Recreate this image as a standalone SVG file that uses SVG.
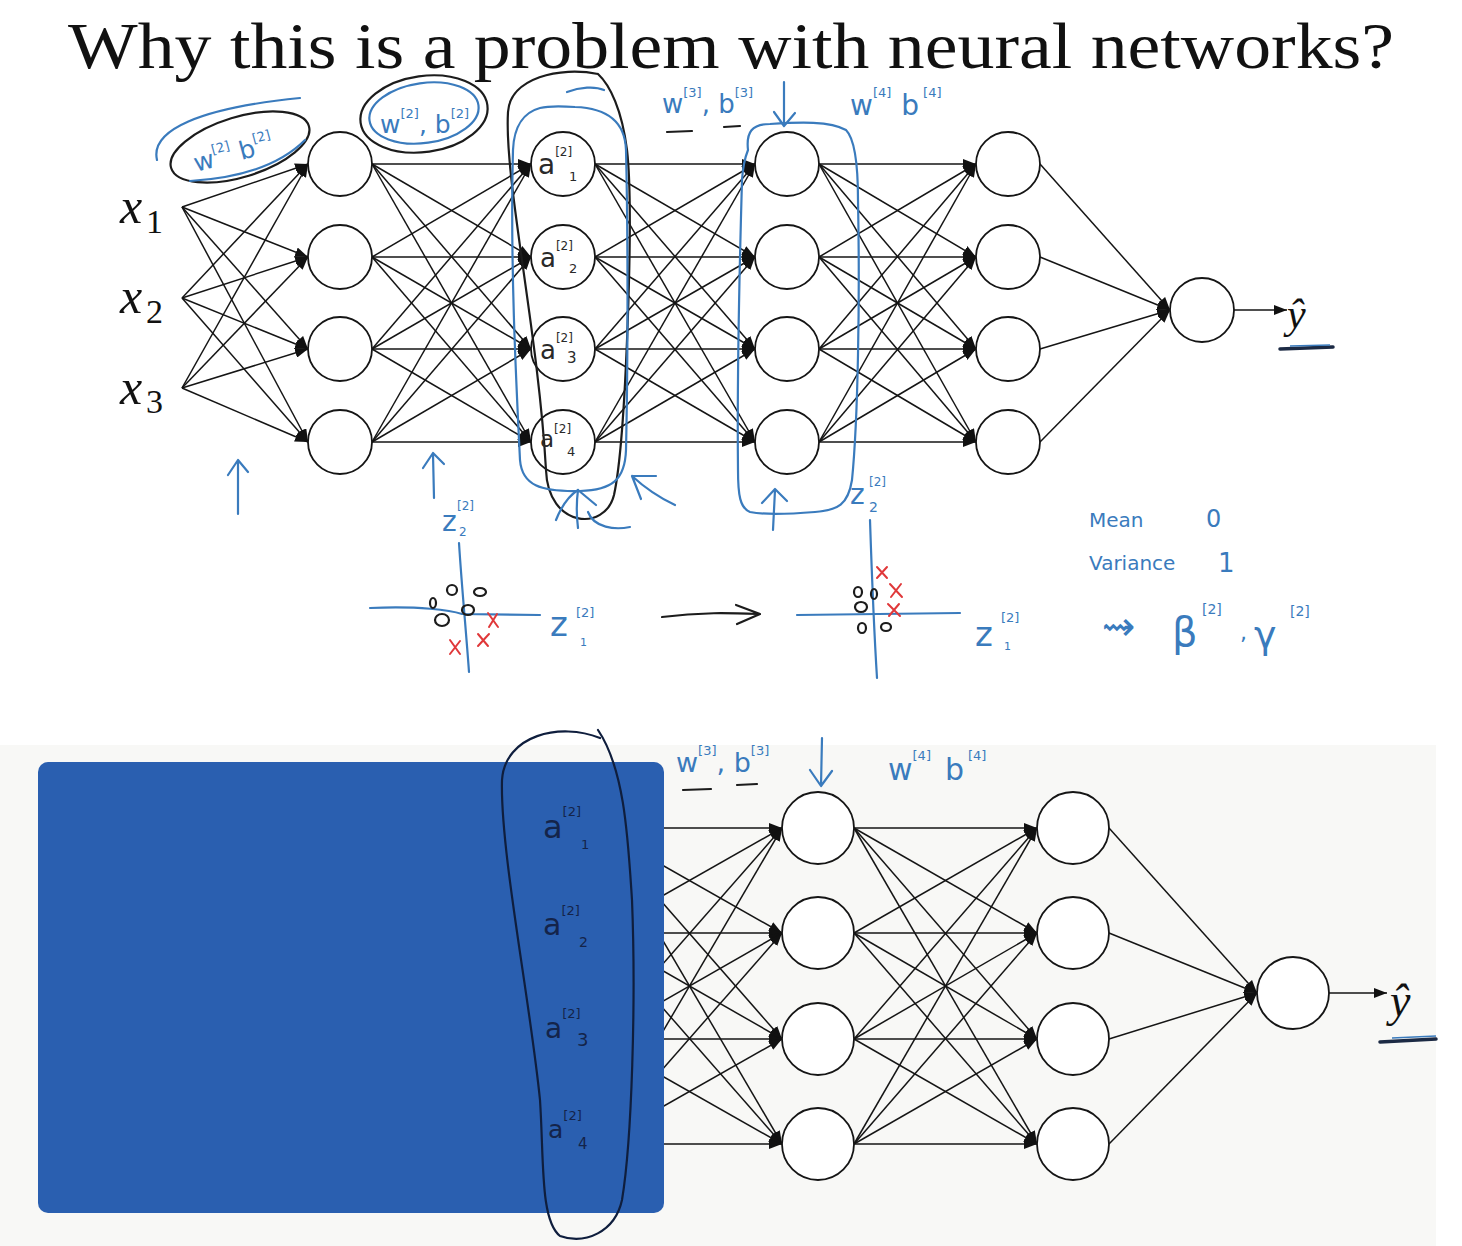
<svg xmlns="http://www.w3.org/2000/svg" width="1462" height="1246" viewBox="0 0 1462 1246">
<style>
.e{stroke:#151515;stroke-width:1.5;fill:none;marker-end:url(#ah)}
.n{fill:#fff;stroke:#151515;stroke-width:1.8}
.ink{fill:none;stroke:#3a7bbd;stroke-width:2.2;stroke-linecap:round;stroke-linejoin:round}
.blk{fill:none;stroke:#1c1c1c;stroke-width:2.2;stroke-linecap:round;stroke-linejoin:round}
.navy{fill:none;stroke:#0f1e3d;stroke-width:2.2;stroke-linecap:round;stroke-linejoin:round}
.red{fill:none;stroke:#e0383a;stroke-width:2;stroke-linecap:round}
.hw{font-family:"DejaVu Sans","Liberation Sans",sans-serif;fill:#3a7bbd}
.hk{font-family:"DejaVu Sans","Liberation Sans",sans-serif;fill:#2a2a2a}
.hn{font-family:"DejaVu Sans","Liberation Sans",sans-serif;fill:#14244a}
.math{font-family:"Liberation Serif","DejaVu Serif",serif;font-style:italic;fill:#111}
.num{font-family:"Liberation Serif","DejaVu Serif",serif;fill:#111}
</style>
<defs>
<marker id="ah" viewBox="0 0 13 10" refX="13" refY="5" markerWidth="13" markerHeight="10" markerUnits="userSpaceOnUse" orient="auto"><path d="M0,0 L13,5 L0,10 z" fill="#111"/></marker>
</defs>
<rect x="0" y="0" width="1462" height="1246" fill="#ffffff"/>
<rect x="0" y="745" width="1436" height="501" fill="#f8f8f6"/>

<text x="731" y="68" text-anchor="middle" font-family="Liberation Serif, DejaVu Serif, serif" font-size="66" fill="#111" textLength="1326" lengthAdjust="spacingAndGlyphs">Why this is a problem with neural networks?</text>

<g id="connectors">
<line class="e" x1="182" y1="207" x2="308" y2="164"/><line class="e" x1="182" y1="207" x2="308" y2="257"/><line class="e" x1="182" y1="207" x2="308" y2="349"/><line class="e" x1="182" y1="207" x2="308" y2="442"/>
<line class="e" x1="182" y1="298" x2="308" y2="164"/><line class="e" x1="182" y1="298" x2="308" y2="257"/><line class="e" x1="182" y1="298" x2="308" y2="349"/><line class="e" x1="182" y1="298" x2="308" y2="442"/>
<line class="e" x1="182" y1="388" x2="308" y2="164"/><line class="e" x1="182" y1="388" x2="308" y2="257"/><line class="e" x1="182" y1="388" x2="308" y2="349"/><line class="e" x1="182" y1="388" x2="308" y2="442"/>
<line class="e" x1="372" y1="164" x2="531" y2="164"/><line class="e" x1="372" y1="164" x2="531" y2="257"/><line class="e" x1="372" y1="164" x2="531" y2="349"/><line class="e" x1="372" y1="164" x2="531" y2="442"/>
<line class="e" x1="372" y1="257" x2="531" y2="164"/><line class="e" x1="372" y1="257" x2="531" y2="257"/><line class="e" x1="372" y1="257" x2="531" y2="349"/><line class="e" x1="372" y1="257" x2="531" y2="442"/>
<line class="e" x1="372" y1="349" x2="531" y2="164"/><line class="e" x1="372" y1="349" x2="531" y2="257"/><line class="e" x1="372" y1="349" x2="531" y2="349"/><line class="e" x1="372" y1="349" x2="531" y2="442"/>
<line class="e" x1="372" y1="442" x2="531" y2="164"/><line class="e" x1="372" y1="442" x2="531" y2="257"/><line class="e" x1="372" y1="442" x2="531" y2="349"/><line class="e" x1="372" y1="442" x2="531" y2="442"/>
<line class="e" x1="595" y1="164" x2="755" y2="164"/><line class="e" x1="595" y1="164" x2="755" y2="257"/><line class="e" x1="595" y1="164" x2="755" y2="349"/><line class="e" x1="595" y1="164" x2="755" y2="442"/>
<line class="e" x1="595" y1="257" x2="755" y2="164"/><line class="e" x1="595" y1="257" x2="755" y2="257"/><line class="e" x1="595" y1="257" x2="755" y2="349"/><line class="e" x1="595" y1="257" x2="755" y2="442"/>
<line class="e" x1="595" y1="349" x2="755" y2="164"/><line class="e" x1="595" y1="349" x2="755" y2="257"/><line class="e" x1="595" y1="349" x2="755" y2="349"/><line class="e" x1="595" y1="349" x2="755" y2="442"/>
<line class="e" x1="595" y1="442" x2="755" y2="164"/><line class="e" x1="595" y1="442" x2="755" y2="257"/><line class="e" x1="595" y1="442" x2="755" y2="349"/><line class="e" x1="595" y1="442" x2="755" y2="442"/>
<line class="e" x1="819" y1="164" x2="976" y2="164"/><line class="e" x1="819" y1="164" x2="976" y2="257"/><line class="e" x1="819" y1="164" x2="976" y2="349"/><line class="e" x1="819" y1="164" x2="976" y2="442"/>
<line class="e" x1="819" y1="257" x2="976" y2="164"/><line class="e" x1="819" y1="257" x2="976" y2="257"/><line class="e" x1="819" y1="257" x2="976" y2="349"/><line class="e" x1="819" y1="257" x2="976" y2="442"/>
<line class="e" x1="819" y1="349" x2="976" y2="164"/><line class="e" x1="819" y1="349" x2="976" y2="257"/><line class="e" x1="819" y1="349" x2="976" y2="349"/><line class="e" x1="819" y1="349" x2="976" y2="442"/>
<line class="e" x1="819" y1="442" x2="976" y2="164"/><line class="e" x1="819" y1="442" x2="976" y2="257"/><line class="e" x1="819" y1="442" x2="976" y2="349"/><line class="e" x1="819" y1="442" x2="976" y2="442"/>
<line class="e" x1="1040" y1="164" x2="1170" y2="310"/><line class="e" x1="1040" y1="257" x2="1170" y2="310"/><line class="e" x1="1040" y1="349" x2="1170" y2="310"/><line class="e" x1="1040" y1="442" x2="1170" y2="310"/>
<line class="e" x1="1234" y1="310" x2="1287" y2="310"/>
<line class="e" x1="597" y1="828" x2="782" y2="828"/><line class="e" x1="597" y1="828" x2="782" y2="933"/><line class="e" x1="597" y1="828" x2="782" y2="1039"/><line class="e" x1="597" y1="828" x2="782" y2="1144"/>
<line class="e" x1="597" y1="933" x2="782" y2="828"/><line class="e" x1="597" y1="933" x2="782" y2="933"/><line class="e" x1="597" y1="933" x2="782" y2="1039"/><line class="e" x1="597" y1="933" x2="782" y2="1144"/>
<line class="e" x1="597" y1="1039" x2="782" y2="828"/><line class="e" x1="597" y1="1039" x2="782" y2="933"/><line class="e" x1="597" y1="1039" x2="782" y2="1039"/><line class="e" x1="597" y1="1039" x2="782" y2="1144"/>
<line class="e" x1="597" y1="1144" x2="782" y2="828"/><line class="e" x1="597" y1="1144" x2="782" y2="933"/><line class="e" x1="597" y1="1144" x2="782" y2="1039"/><line class="e" x1="597" y1="1144" x2="782" y2="1144"/>
<line class="e" x1="854" y1="828" x2="1037" y2="828"/><line class="e" x1="854" y1="828" x2="1037" y2="933"/><line class="e" x1="854" y1="828" x2="1037" y2="1039"/><line class="e" x1="854" y1="828" x2="1037" y2="1144"/>
<line class="e" x1="854" y1="933" x2="1037" y2="828"/><line class="e" x1="854" y1="933" x2="1037" y2="933"/><line class="e" x1="854" y1="933" x2="1037" y2="1039"/><line class="e" x1="854" y1="933" x2="1037" y2="1144"/>
<line class="e" x1="854" y1="1039" x2="1037" y2="828"/><line class="e" x1="854" y1="1039" x2="1037" y2="933"/><line class="e" x1="854" y1="1039" x2="1037" y2="1039"/><line class="e" x1="854" y1="1039" x2="1037" y2="1144"/>
<line class="e" x1="854" y1="1144" x2="1037" y2="828"/><line class="e" x1="854" y1="1144" x2="1037" y2="933"/><line class="e" x1="854" y1="1144" x2="1037" y2="1039"/><line class="e" x1="854" y1="1144" x2="1037" y2="1144"/>
<line class="e" x1="1109" y1="828" x2="1257" y2="993"/><line class="e" x1="1109" y1="933" x2="1257" y2="993"/><line class="e" x1="1109" y1="1039" x2="1257" y2="993"/><line class="e" x1="1109" y1="1144" x2="1257" y2="993"/>
<line class="e" x1="1329" y1="993" x2="1387" y2="993"/>
</g>

<g id="x1"><text class="math" x="120" y="223" font-size="50">x</text><text class="num" x="146" y="233" font-size="34">1</text></g>
<g id="x2"><text class="math" x="120" y="313" font-size="50">x</text><text class="num" x="146" y="323" font-size="34">2</text></g>
<g id="x3"><text class="math" x="120" y="404" font-size="50">x</text><text class="num" x="146" y="413" font-size="34">3</text></g>

<g id="L1n1"><circle class="n" cx="340" cy="164" r="32"/></g>
<g id="L1n2"><circle class="n" cx="340" cy="257" r="32"/></g>
<g id="L1n3"><circle class="n" cx="340" cy="349" r="32"/></g>
<g id="L1n4"><circle class="n" cx="340" cy="442" r="32"/></g>
<g id="L2n1"><circle class="n" cx="563" cy="164" r="32"/></g>
<g id="L2n2"><circle class="n" cx="563" cy="257" r="32"/></g>
<g id="L2n3"><circle class="n" cx="563" cy="349" r="32"/></g>
<g id="L2n4"><circle class="n" cx="563" cy="442" r="32"/></g>
<g id="L3n1"><circle class="n" cx="787" cy="164" r="32"/></g>
<g id="L3n2"><circle class="n" cx="787" cy="257" r="32"/></g>
<g id="L3n3"><circle class="n" cx="787" cy="349" r="32"/></g>
<g id="L3n4"><circle class="n" cx="787" cy="442" r="32"/></g>
<g id="L4n1"><circle class="n" cx="1008" cy="164" r="32"/></g>
<g id="L4n2"><circle class="n" cx="1008" cy="257" r="32"/></g>
<g id="L4n3"><circle class="n" cx="1008" cy="349" r="32"/></g>
<g id="L4n4"><circle class="n" cx="1008" cy="442" r="32"/></g>
<g id="out"><circle class="n" cx="1202" cy="310" r="32"/></g>
<g id="yhat"><text class="math" x="1287" y="328" font-size="42">ŷ</text><path d="M1280,349 L1333,347" stroke="#1c2a44" stroke-width="3.5" fill="none" stroke-linecap="round"/><path d="M1290,346 L1330,345" stroke="#3a7bbd" stroke-width="1.5" fill="none"/></g>

<g id="B3n1"><circle class="n" cx="818" cy="828" r="36"/></g>
<g id="B3n2"><circle class="n" cx="818" cy="933" r="36"/></g>
<g id="B3n3"><circle class="n" cx="818" cy="1039" r="36"/></g>
<g id="B3n4"><circle class="n" cx="818" cy="1144" r="36"/></g>
<g id="B4n1"><circle class="n" cx="1073" cy="828" r="36"/></g>
<g id="B4n2"><circle class="n" cx="1073" cy="933" r="36"/></g>
<g id="B4n3"><circle class="n" cx="1073" cy="1039" r="36"/></g>
<g id="B4n4"><circle class="n" cx="1073" cy="1144" r="36"/></g>
<g id="bout"><circle class="n" cx="1293" cy="993" r="36"/></g>
<g id="byhat"><text class="math" x="1390" y="1016" font-size="46">ŷ</text><path d="M1380,1042 L1436,1039" stroke="#1c2a44" stroke-width="3.5" fill="none" stroke-linecap="round"/><path d="M1392,1038 L1436,1036" stroke="#3a7bbd" stroke-width="1.5" fill="none"/></g>

<rect id="cover" x="38" y="762" width="626" height="451" rx="10" fill="#2a5fb0"/>

<!-- top annotations -->
<ellipse class="blk" cx="240" cy="147" rx="72" ry="30" transform="rotate(-17 240 147)"/>
<path class="ink" d="M157,160 C150,130 200,108 300,98"/>
<path class="ink" d="M190,181 C240,178 280,165 305,140"/>
<text class="hw" transform="rotate(-15 240 150)" x="192" y="160" font-size="25">w<tspan font-size="13" dy="-13">[2]</tspan><tspan dy="13"> b</tspan><tspan font-size="13" dy="-13">[2]</tspan></text>
<ellipse class="blk" cx="424" cy="114" rx="64" ry="38" transform="rotate(-8 424 114)"/>
<ellipse class="ink" cx="424" cy="113" rx="55" ry="30" transform="rotate(-8 424 113)"/>
<text class="hw" x="380" y="133" font-size="25">w<tspan font-size="13" dy="-15">[2]</tspan><tspan dy="15">, b</tspan><tspan font-size="13" dy="-15">[2]</tspan></text>

<path class="blk" d="M598,74 C560,66 510,78 508,112 C504,180 538,330 546,470 C548,528 605,532 614,495 C626,440 634,210 627,150 C622,110 610,85 598,74"/>
<path class="ink" d="M540,108 C525,112 514,125 513,150 C510,260 516,380 520,460 C522,485 540,492 580,491 C612,490 625,480 626,450 C628,360 628,230 626,150 C625,120 605,108 575,107 C560,106 548,106 540,108"/>
<path class="ink" d="M567,92 C580,87 595,86 604,90"/>
<path class="ink" d="M556,520 C562,505 570,495 578,490"/>
<path class="ink" d="M578,490 L596,505 M578,490 C576,505 577,520 578,528"/>
<path class="ink" d="M588,512 C594,528 615,530 630,527"/>
<path class="ink" d="M675,505 C660,498 645,488 632,476 M632,476 L656,476 M632,476 L641,499"/>

<text x="538" y="174" font-size="28" class="hk">a<tspan font-size="12" dy="-18">[2]</tspan></text><text x="569" y="181" font-size="13" class="hk">1</text>
<text x="540" y="267" font-size="26" class="hk">a<tspan font-size="12" dy="-17">[2]</tspan></text><text x="569" y="273" font-size="13" class="hk">2</text>
<text x="540" y="359" font-size="26" class="hk">a<tspan font-size="12" dy="-17">[2]</tspan></text><text x="567" y="363" font-size="15" class="hk">3</text>
<text x="540" y="447" font-size="23" class="hk">a<tspan font-size="12" dy="-14">[2]</tspan></text><text x="567" y="456" font-size="13" class="hk">4</text>

<text class="hw" x="662" y="113" font-size="26">w<tspan font-size="13" dy="-16">[3]</tspan><tspan dy="16">, b</tspan><tspan font-size="13" dy="-16">[3]</tspan></text>
<path class="blk" d="M667,132 L692,131 M724,127 L740,126"/>
<path class="ink" d="M784,82 L784,125 M774,112 L784,126 L795,113"/>
<text class="hw" x="850" y="115" font-size="28">w<tspan font-size="13" dy="-18">[4]</tspan><tspan dx="10" dy="18">b</tspan><tspan font-size="13" dy="-18" dx="4">[4]</tspan></text>

<path class="ink" d="M748,150 C746,132 752,124 770,124 C800,122 830,121 846,130 C856,140 858,170 858,200 C860,300 858,420 852,480 C848,505 838,510 815,512 C790,514 765,515 750,512 C740,508 738,495 738,470 C737,380 740,250 742,180 C743,165 746,155 748,150"/>
<path class="ink" d="M773,530 L775,490 M762,503 L775,489 L787,501"/>
<path class="ink" d="M238,514 L238,461 M228,475 L238,460 L248,472"/>
<path class="ink" d="M434,498 L433,454 M423,468 L433,453 L444,464"/>

<!-- scatter 1 -->
<path class="ink" d="M370,608 C420,606 450,610 462,614 L540,615"/>
<path class="ink" d="M459,543 C462,590 466,630 469,672"/>
<g class="blk" stroke-width="2">
<ellipse cx="433" cy="603" rx="3" ry="5"/>
<ellipse cx="452" cy="590" rx="5" ry="5"/>
<ellipse cx="480" cy="592" rx="6" ry="4"/>
<ellipse cx="442" cy="620" rx="7" ry="6"/>
<ellipse cx="468" cy="610" rx="6" ry="5"/>
</g>
<path class="red" d="M488,613 L498,627 M497,614 L489,627 M478,634 L488,646 M489,634 L478,646 M450,640 L460,654 M460,641 L450,654"/>
<text class="hw" x="442" y="531" font-size="28">z</text><text class="hw" x="457" y="510" font-size="12">[2]</text><text class="hw" x="459" y="536" font-size="12">2</text>
<text class="hw" x="550" y="636" font-size="34">z</text><text class="hw" x="576" y="617" font-size="13">[2]</text><text class="hw" x="580" y="646" font-size="11">1</text>
<path class="blk" d="M662,617 C700,612 730,613 758,614 M736,605 L760,614 L737,624"/>

<!-- scatter 2 -->
<path class="ink" d="M797,615 L960,613"/>
<path class="ink" d="M870,520 C872,580 874,630 877,678"/>
<g class="blk" stroke-width="2">
<ellipse cx="858" cy="592" rx="4" ry="5"/>
<ellipse cx="874" cy="594" rx="3" ry="5"/>
<ellipse cx="861" cy="607" rx="6" ry="5"/>
<ellipse cx="862" cy="628" rx="4" ry="5"/>
<ellipse cx="886" cy="627" rx="5" ry="4"/>
</g>
<path class="red" d="M877,567 L887,578 M887,567 L877,578 M890,584 L902,597 M901,584 L891,597 M888,604 L900,616 M899,604 L889,616"/>
<text class="hw" x="850" y="504" font-size="28">z</text><text class="hw" x="869" y="486" font-size="12">[2]</text><text class="hw" x="869" y="512" font-size="14">2</text>
<text class="hw" x="975" y="646" font-size="34">z</text><text class="hw" x="1001" y="622" font-size="13">[2]</text><text class="hw" x="1004" y="650" font-size="11">1</text>

<text class="hw" x="1089" y="527" font-size="20">Mean</text>
<text class="hw" x="1206" y="527" font-size="24">0</text>
<text class="hw" x="1089" y="570" font-size="20">Variance</text>
<text class="hw" x="1218" y="572" font-size="26">1</text>
<text class="hw" x="1102" y="640" font-size="40">⇝</text>
<text class="hw" x="1172" y="646" font-size="40">β</text><text class="hw" x="1202" y="614" font-size="14">[2]</text>
<text class="hw" x="1240" y="640" font-size="22">,</text>
<text class="hw" x="1254" y="648" font-size="38">γ</text><text class="hw" x="1290" y="616" font-size="14">[2]</text>

<!-- bottom annotations -->
<path class="navy" d="M600,738 C560,722 505,735 502,780 C500,850 530,1000 540,1100 C544,1160 540,1220 560,1236 C585,1245 615,1232 622,1200 C632,1140 636,1000 632,900 C628,840 625,770 598,730"/>
<text class="hn" x="543" y="838" font-size="32">a<tspan font-size="13" dy="-22">[2]</tspan></text><text class="hn" x="581" y="849" font-size="13">1</text>
<text class="hn" x="543" y="935" font-size="30">a<tspan font-size="13" dy="-20">[2]</tspan></text><text class="hn" x="579" y="947" font-size="14">2</text>
<text class="hn" x="545" y="1038" font-size="28">a<tspan font-size="13" dy="-20">[2]</tspan></text><text class="hn" x="577" y="1046" font-size="18">3</text>
<text class="hn" x="548" y="1138" font-size="25">a<tspan font-size="13" dy="-18">[2]</tspan></text><text class="hn" x="578" y="1149" font-size="15">4</text>

<text class="hw" x="676" y="772" font-size="27">w<tspan font-size="13" dy="-17">[3]</tspan><tspan dy="17">, b</tspan><tspan font-size="13" dy="-17">[3]</tspan></text>
<path class="blk" d="M683,790 L711,789 M737,785 L757,784"/>
<path class="ink" d="M822,738 L821,786 M810,770 L821,786 L832,771"/>
<text class="hw" x="888" y="780" font-size="30">w<tspan font-size="13" dy="-20">[4]</tspan><tspan dx="14" dy="20">b</tspan><tspan font-size="13" dy="-20" dx="4">[4]</tspan></text>
</svg>
